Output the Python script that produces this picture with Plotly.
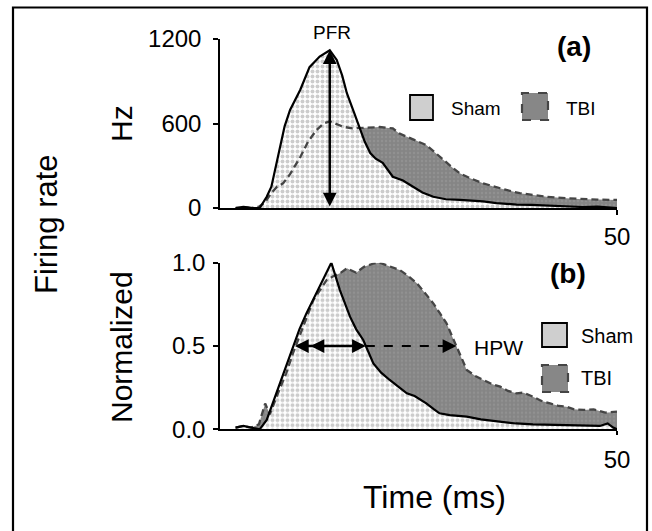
import numpy as np
import plotly.graph_objects as go

# ---------------- data ----------------
t_sham_a = [1.0, 2.0, 2.6, 3.0, 4.1, 5.0, 5.6, 6.2, 6.7, 7.3, 8.0, 9.3, 10.5, 11.8, 13.1, 14.0,
            14.7, 15.3, 16.2, 17.0, 17.6, 18.3, 19.0, 19.9, 20.6, 21.2, 22.5, 23.8, 25.0, 26.4,
            28.0, 29.8, 31.0, 32.8, 34.5, 37.1, 39.0, 41.4, 43.5, 45.6, 47.5, 49.0, 50.0]
v_sham_a = [0, 8, 5, 0, 0, 80, 151, 300, 435, 580, 696, 838, 1000, 1075, 1120, 1051,
            940, 815, 680, 554, 470, 390, 350, 320, 270, 222, 195, 151, 110, 80,
            62, 57, 55, 47, 35, 24, 22, 17, 10, 7, 10, 3, 0]

t_tbi_a = [1.0, 3.0, 4.0, 4.8, 5.5, 6.3, 7.1, 8.0, 9.3, 10.3, 11.4, 12.3, 13.1, 13.8, 14.8,
           16.0, 17.8, 19.5, 21.2, 22.0, 23.0, 24.2, 25.5, 26.5, 27.7, 28.8, 29.8, 31.2,
           32.8, 34.3, 35.8, 37.5, 39.2, 41.0, 43.5, 45.5, 47.5, 50.0]
v_tbi_a = [0, 0, 10, 40, 100, 150, 175, 240, 360, 470, 554, 600, 615, 600, 577,
           565, 570, 575, 565, 530, 506, 480, 447, 400, 340, 290, 246, 210,
           175, 150, 128, 105, 92, 80, 69, 62, 60, 57]

t_sham_b = [1.0, 2.0, 3.0, 4.1, 5.0, 5.8, 6.7, 7.5, 8.4, 9.2, 10.1, 11.0, 11.8, 12.6, 13.3,
            14.4, 15.7, 16.5, 17.4, 18.7, 19.7, 20.8, 22.0, 23.0, 24.0, 25.5, 26.5, 27.2,
            28.5, 30.7, 32.5, 35.0, 37.0, 39.2, 41.0, 43.5, 45.5, 47.8, 48.8, 49.5, 50.0]
v_sham_b = [0.01, 0.02, 0.01, 0.0, 0.056, 0.16, 0.276, 0.39, 0.496, 0.6, 0.696, 0.78, 0.856,
            0.93, 1.0, 0.836, 0.676, 0.6, 0.536, 0.396, 0.34, 0.296, 0.25, 0.216, 0.2, 0.156,
            0.12, 0.096, 0.085, 0.076, 0.06, 0.046, 0.035, 0.03, 0.028, 0.025, 0.022, 0.02,
            0.035, 0.01, 0.0]

t_tbi_b = [1.0, 2.0, 3.0, 4.0, 4.8, 5.4, 6.3, 7.5, 8.4, 9.3, 10.2, 11.0, 12.0, 12.7, 13.6,
           14.4, 15.3, 16.0, 16.5, 17.5, 18.7, 19.5, 20.4, 21.2, 22.1, 23.2, 24.3, 25.3,
           26.4, 27.2, 28.1, 28.8, 29.4, 30.0, 30.7, 31.8, 32.8, 34.0, 35.0, 36.0, 37.1,
           38.0, 39.2, 40.3, 41.4, 42.5, 43.5, 44.5, 45.7, 47.0, 48.5, 50.0]
v_tbi_b = [0.01, 0.02, 0.01, 0.03, 0.155, 0.09, 0.2, 0.336, 0.46, 0.576, 0.68, 0.776, 0.85,
           0.896, 0.92, 0.936, 0.966, 0.95, 0.94, 0.975, 0.995, 1.0, 0.985, 0.97, 0.956,
           0.92, 0.876, 0.82, 0.756, 0.7, 0.636, 0.56, 0.496, 0.43, 0.356, 0.32, 0.296,
           0.27, 0.256, 0.23, 0.216, 0.22, 0.196, 0.17, 0.156, 0.14, 0.136, 0.12, 0.116,
           0.12, 0.1, 0.106]

ticks_a = [0, 600, 1200]
ticks_b = [0, 0.5, 1.0]
x_ticks = [50]
series_names = ["Sham", "TBI"]

# ---------------- styling ----------------
W, H = 652, 531
FONT = "Liberation Sans, Arial, Helvetica, sans-serif"
SHAM_PAT = dict(shape=".", fgcolor="#999999", bgcolor="#ffffff", size=5, solidity=0.5)
TBI_PAT = dict(shape=".", fgcolor="#9c9c9c", bgcolor="#858585", size=4, solidity=0.3)


def px(x):
    return x / W


def py(y):
    return 1 - y / H


fig = go.Figure()

panels = [
    ("x", "y", t_sham_a, v_sham_a, t_tbi_a, v_tbi_a),
    ("x2", "y2", t_sham_b, v_sham_b, t_tbi_b, v_tbi_b),
]
for xa, ya, ts, vs, tt, vt in panels:
    fig.add_trace(go.Scatter(x=tt, y=vt, xaxis=xa, yaxis=ya, mode="none", fill="tozeroy",
                             fillpattern=TBI_PAT, showlegend=False, hoverinfo="skip"))
    fig.add_trace(go.Scatter(x=ts, y=vs, xaxis=xa, yaxis=ya, mode="none", fill="tozeroy",
                             fillpattern=SHAM_PAT, showlegend=False, hoverinfo="skip"))
    fig.add_trace(go.Scatter(x=tt, y=vt, xaxis=xa, yaxis=ya, mode="lines",
                             line=dict(color="#454545", width=2.3, dash="7px,4px"),
                             showlegend=False, name=series_names[1]))
    fig.add_trace(go.Scatter(x=ts, y=vs, xaxis=xa, yaxis=ya, mode="lines",
                             line=dict(color="black", width=2.2),
                             showlegend=False, name=series_names[0]))

axis_common = dict(showgrid=False, zeroline=False, showline=True, linecolor="black",
                   linewidth=1.5, ticks="outside", tickcolor="black", tickwidth=1.5,
                   tickfont=dict(family=FONT, size=24, color="black"), automargin=False,
                   layer="above traces", fixedrange=True)

fig.update_layout(
    width=W, height=H, margin=dict(l=0, r=0, t=0, b=0),
    paper_bgcolor="white", plot_bgcolor="white",
    font=dict(family=FONT, color="black"),
    xaxis=dict(domain=[px(220), px(617)], range=[-1, 50], tickvals=x_ticks, ticklen=5,
               anchor="y", ticklabelstandoff=1, **axis_common),
    yaxis=dict(domain=[py(208), py(39)], range=[0, 1200], tickvals=ticks_a, ticklen=5,
               anchor="x", ticklabelstandoff=7, **axis_common),
    xaxis2=dict(domain=[px(220), px(617)], range=[-1, 50], tickvals=x_ticks, ticklen=4,
                anchor="y2", ticklabelstandoff=4, **axis_common),
    yaxis2=dict(domain=[py(429.3), py(262.7)], range=[0, 1.0], tickvals=ticks_b,
                tickformat=".1f", ticklen=5, anchor="x2", ticklabelstandoff=3, **axis_common),
)

shapes = []
# y-axis lines extend a little below zero
for ya, xd, ext in [("y", "x domain", -5), ("y2", "x2 domain", -17)]:
    shapes.append(dict(type="line", xref=xd, x0=0, x1=0, yref=ya, ysizemode="pixel",
                       yanchor=0, y0=0, y1=ext, line=dict(color="black", width=1.5)))
# outer frame
shapes.append(dict(type="rect", xref="paper", yref="paper", x0=px(13), x1=px(647),
                   y0=py(545), y1=py(7.5), line=dict(color="black", width=2.2)))
# legend keys
shapes += [
    dict(type="rect", xref="paper", yref="paper", x0=px(410), x1=px(433), y0=py(120), y1=py(95),
         fillcolor="#cfcfcf", line=dict(color="black", width=1.8)),
    dict(type="rect", xref="paper", yref="paper", x0=px(522), x1=px(548), y0=py(120), y1=py(93),
         fillcolor="#878787", line=dict(color="#454545", width=2.2, dash="dash")),
    dict(type="rect", xref="paper", yref="paper", x0=px(542), x1=px(567), y0=py(347), y1=py(323),
         fillcolor="#cfcfcf", line=dict(color="black", width=1.8)),
    dict(type="rect", xref="paper", yref="paper", x0=px(542), x1=px(568), y0=py(392), y1=py(365),
         fillcolor="#878787", line=dict(color="#454545", width=2.2, dash="dash")),
]

# --- derived arrow positions from the data ---
ts_a = np.array(t_sham_a); vs_a = np.array(v_sham_a)
ipk = int(np.argmax(vs_a))
t_pfr, v_pfr = ts_a[ipk], vs_a[ipk]

ts_b = np.array(t_sham_b); vs_b = np.array(v_sham_b)
tt_b = np.array(t_tbi_b); vt_b = np.array(v_tbi_b)
jpk = int(np.argmax(vs_b))
s_rise = float(np.interp(0.5, vs_b[:jpk + 1], ts_b[:jpk + 1]))
s_fall = float(np.interp(0.5, vs_b[jpk:][::-1], ts_b[jpk:][::-1]))
kpk = int(np.argmax(vt_b))
t_fall = float(np.interp(0.5, vt_b[kpk:][::-1], tt_b[kpk:][::-1]))

shapes.append(dict(type="line", xref="x2", yref="y2", x0=s_fall, x1=t_fall - 0.8, y0=0.5, y1=0.5,
                   line=dict(color="black", width=2, dash="dash")))
fig.update_layout(shapes=shapes)

ann = []
# PFR arrow
ann.append(dict(xref="x", yref="y", axref="x", ayref="y", x=t_pfr, y=v_pfr, ax=t_pfr, ay=0,
                text="", showarrow=True, arrowhead=2, startarrowhead=2, arrowside="end+start",
                arrowsize=1.1, startarrowsize=1.1, arrowwidth=2.5, arrowcolor="black"))
# HPW solid arrow (sham)
ann.append(dict(xref="x2", yref="y2", axref="x2", ayref="y2", x=s_fall, y=0.5, ax=s_rise, ay=0.5,
                text="", showarrow=True, arrowhead=2, startarrowhead=2, arrowside="end+start",
                arrowsize=1.1, startarrowsize=1.1, arrowwidth=2.5, arrowcolor="black"))
ann.append(dict(xref="x2", yref="y2", axref="x2", ayref="y2", x=s_rise + 2.2, y=0.5,
                ax=s_rise + 4.0, ay=0.5, text="", showarrow=True, arrowhead=2,
                arrowsize=1.1, arrowwidth=2.5, arrowcolor="black"))
# HPW dashed arrow head (TBI)
ann.append(dict(xref="x2", yref="y2", axref="x2", ayref="y2", x=t_fall, y=0.5, ax=t_fall - 1.5,
                ay=0.5, text="", showarrow=True, arrowhead=2, arrowsize=1.1, arrowwidth=2.5,
                arrowcolor="black"))


def label(text, x, y, size, xanchor="center", angle=0, bold=False):
    if bold:
        text = "<b>" + text + "</b>"
    ann.append(dict(xref="paper", yref="paper", x=px(x), y=py(y), text=text, showarrow=False,
                    xanchor=xanchor, yanchor="middle", textangle=angle,
                    font=dict(family=FONT, size=size, color="black")))


label("Firing rate", 47, 224, 31, angle=-90)
label("Hz", 121, 124, 30, angle=-90)
label("Normalized", 121, 347, 30, angle=-90)
label("Time (ms)", 434, 497, 32)
label("(a)", 574, 46, 28, bold=True)
label("(b)", 568, 274, 28, bold=True)
label("PFR", 332, 33, 19)
label("HPW", 472, 347, 21, xanchor="left")
label(series_names[0], 449, 108, 19, xanchor="left")
label(series_names[1], 564, 108, 19, xanchor="left")
label(series_names[0], 579, 336, 20, xanchor="left")
label(series_names[1], 579, 378, 20, xanchor="left")

fig.update_layout(annotations=ann)
fig.write_html("out.html", config={"displayModeBar": False},
               post_script="document.body.style.margin='0';document.body.style.overflow='hidden';")
